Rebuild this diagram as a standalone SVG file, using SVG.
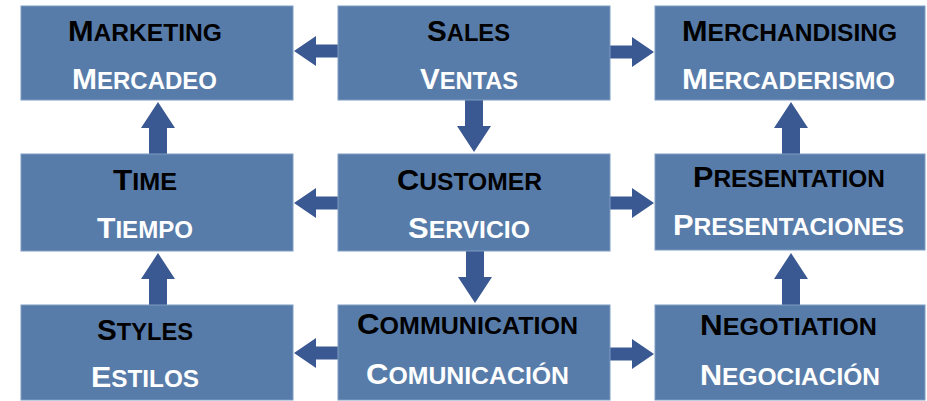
<svg xmlns="http://www.w3.org/2000/svg" xmlns:xlink="http://www.w3.org/1999/xlink" width="927" height="401" viewBox="0 0 927 401">
<style>
.box{fill:#587ca9;stroke:#7f9cc2;stroke-width:1}
.t{font-family:"Liberation Sans",Arial,sans-serif;font-weight:bold;font-size:24px}
.b{font-size:30px}
.en{fill:#000}
.es{fill:#fff}
.arr{fill:#3a5891}
</style>
<defs>
<path id="ah" d="M0,-6.5 H22 V-15 L44,0 L22,15 V6.5 H0 Z"/>
<path id="av" d="M-9,0 V26 H-17 L0,52 L17,26 H9 V0 Z"/>
</defs>
<rect width="927" height="401" fill="#fff"/>
<g id="connectors" class="arr">
<use xlink:href="#ah" transform="translate(338,51) scale(-1,1)"/>
<use xlink:href="#ah" transform="translate(610,52)"/>
<use xlink:href="#ah" transform="translate(338,203) scale(-1,1)"/>
<use xlink:href="#ah" transform="translate(610,203)"/>
<use xlink:href="#ah" transform="translate(338,353) scale(-1,1)"/>
<use xlink:href="#ah" transform="translate(610,354)"/>
<use xlink:href="#av" transform="translate(474,100)"/>
<use xlink:href="#av" transform="translate(475,251)"/>
<use xlink:href="#av" transform="translate(158,154) scale(1,-1)"/>
<use xlink:href="#av" transform="translate(158,305) scale(1,-1)"/>
<use xlink:href="#av" transform="translate(791,154) scale(1,-1)"/>
<use xlink:href="#av" transform="translate(791,305) scale(1,-1)"/>
</g>
<g id="marketing">
<rect class="box" x="21" y="6" width="272" height="94"/>
<text class="t en" x="68" y="41" textLength="154" lengthAdjust="spacingAndGlyphs"><tspan class="b">M</tspan>ARKETING</text>
<text class="t es" x="72" y="89" textLength="145" lengthAdjust="spacingAndGlyphs"><tspan class="b">M</tspan>ERCADEO</text>
</g>
<g id="sales">
<rect class="box" x="338" y="6" width="272" height="94"/>
<text class="t en" x="427" y="41" textLength="83" lengthAdjust="spacingAndGlyphs"><tspan class="b">S</tspan>ALES</text>
<text class="t es" x="420" y="89" textLength="98" lengthAdjust="spacingAndGlyphs"><tspan class="b">V</tspan>ENTAS</text>
</g>
<g id="merchandising">
<rect class="box" x="655" y="6" width="270" height="94"/>
<text class="t en" x="682" y="41" textLength="215" lengthAdjust="spacingAndGlyphs"><tspan class="b">M</tspan>ERCHANDISING</text>
<text class="t es" x="682" y="89" textLength="213" lengthAdjust="spacingAndGlyphs"><tspan class="b">M</tspan>ERCADERISMO</text>
</g>
<g id="time">
<rect class="box" x="21" y="154" width="272" height="97"/>
<text class="t en" x="113" y="190" textLength="64" lengthAdjust="spacingAndGlyphs"><tspan class="b">T</tspan>IME</text>
<text class="t es" x="97" y="238" textLength="96" lengthAdjust="spacingAndGlyphs"><tspan class="b">T</tspan>IEMPO</text>
</g>
<g id="customer">
<rect class="box" x="338" y="154" width="272" height="97"/>
<text class="t en" x="397" y="190" textLength="145" lengthAdjust="spacingAndGlyphs"><tspan class="b">C</tspan>USTOMER</text>
<text class="t es" x="408" y="238" textLength="122" lengthAdjust="spacingAndGlyphs"><tspan class="b">S</tspan>ERVICIO</text>
</g>
<g id="presentation">
<rect class="box" x="655" y="154" width="270" height="96"/>
<text class="t en" x="693" y="187" textLength="192" lengthAdjust="spacingAndGlyphs"><tspan class="b">P</tspan>RESENTATION</text>
<text class="t es" x="673" y="235" textLength="231" lengthAdjust="spacingAndGlyphs"><tspan class="b">P</tspan>RESENTACIONES</text>
</g>
<g id="styles">
<rect class="box" x="21" y="305" width="272" height="95"/>
<text class="t en" x="97" y="340" textLength="96" lengthAdjust="spacingAndGlyphs"><tspan class="b">S</tspan>TYLES</text>
<text class="t es" x="91" y="387" textLength="108" lengthAdjust="spacingAndGlyphs"><tspan class="b">E</tspan>STILOS</text>
</g>
<g id="communication">
<rect class="box" x="338" y="305" width="272" height="95"/>
<text class="t en" x="357" y="334" textLength="221" lengthAdjust="spacingAndGlyphs"><tspan class="b">C</tspan>OMMUNICATION</text>
<text class="t es" x="366" y="384" textLength="203" lengthAdjust="spacingAndGlyphs"><tspan class="b">C</tspan>OMUNICACIÓN</text>
</g>
<g id="negotiation">
<rect class="box" x="655" y="305" width="270" height="95"/>
<text class="t en" x="700" y="335" textLength="177" lengthAdjust="spacingAndGlyphs"><tspan class="b">N</tspan>EGOTIATION</text>
<text class="t es" x="700" y="385" textLength="180" lengthAdjust="spacingAndGlyphs"><tspan class="b">N</tspan>EGOCIACIÓN</text>
</g>
</svg>
